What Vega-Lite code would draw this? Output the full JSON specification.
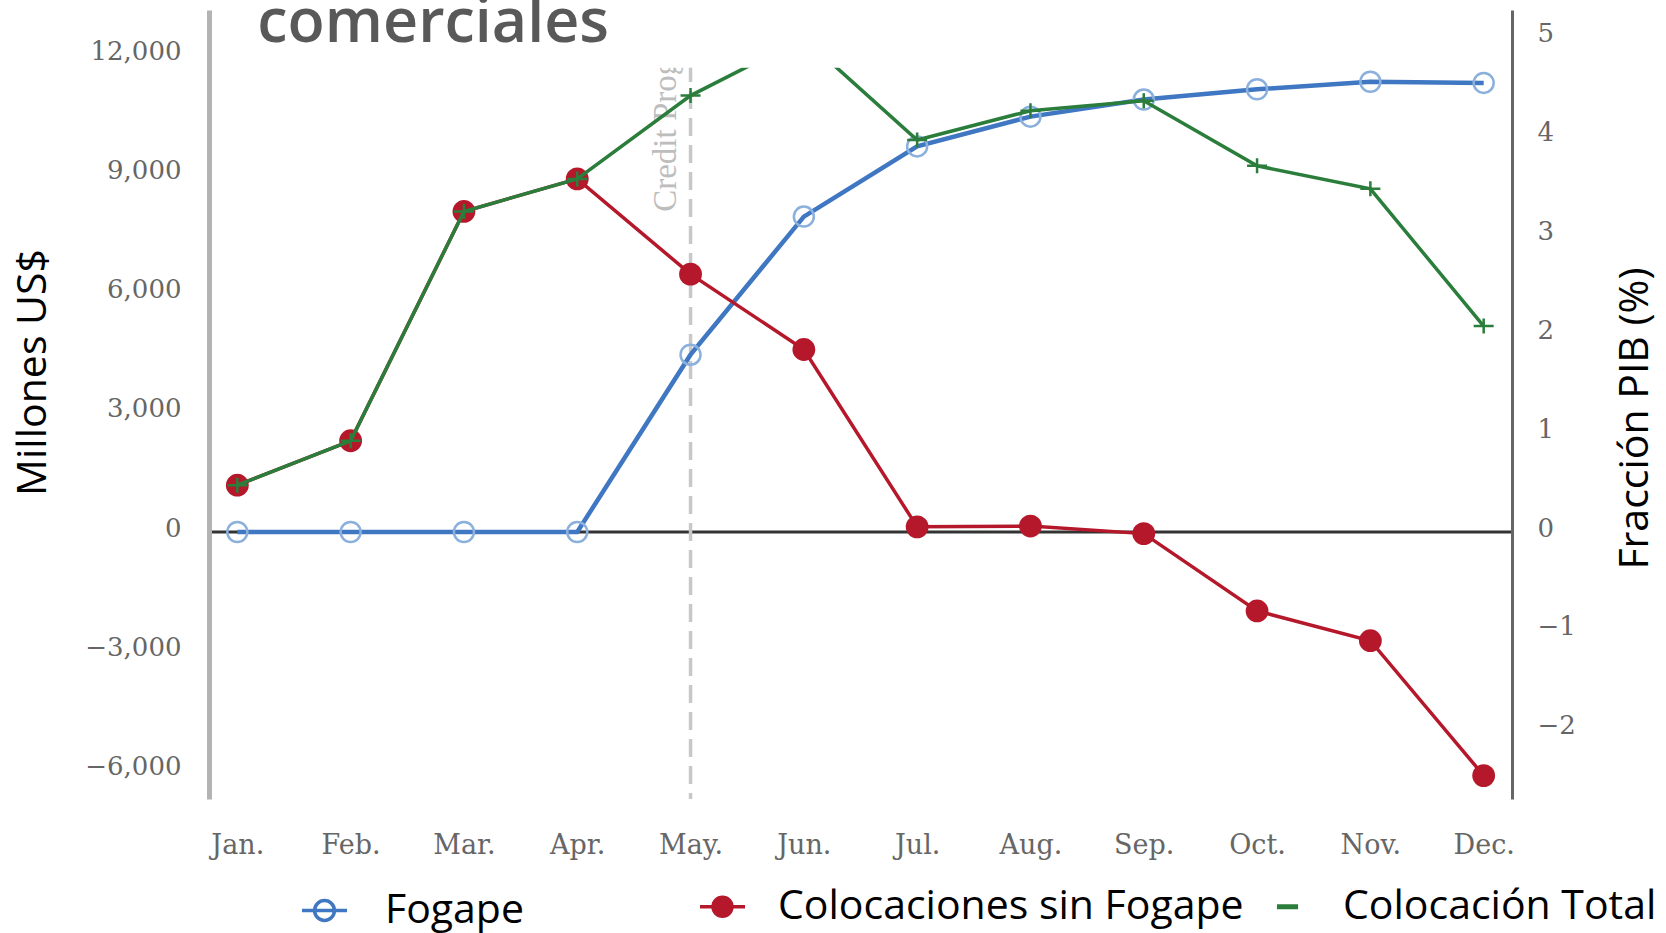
{
  "$schema": "https://vega.github.io/schema/vega-lite/v6.json",
  "width": 1303,
  "height": 789,
  "autosize": {"type": "none"},
  "padding": {"left": 209, "top": 10, "right": 154, "bottom": 134},
  "background": "white",
  "config": {"view": {"stroke": null}},
  "datasets": {
    "series": [
      {"mes": "Jan.", "serie": "Fogape", "valor": 0},
      {"mes": "Feb.", "serie": "Fogape", "valor": 0},
      {"mes": "Mar.", "serie": "Fogape", "valor": 0},
      {"mes": "Apr.", "serie": "Fogape", "valor": 0},
      {"mes": "May.", "serie": "Fogape", "valor": 4470},
      {"mes": "Jun.", "serie": "Fogape", "valor": 7950},
      {"mes": "Jul.", "serie": "Fogape", "valor": 9720},
      {"mes": "Aug.", "serie": "Fogape", "valor": 10470},
      {"mes": "Sep.", "serie": "Fogape", "valor": 10900},
      {"mes": "Oct.", "serie": "Fogape", "valor": 11160},
      {"mes": "Nov.", "serie": "Fogape", "valor": 11350},
      {"mes": "Dec.", "serie": "Fogape", "valor": 11320},
      {"mes": "Jan.", "serie": "Colocaciones sin Fogape", "valor": 1180},
      {"mes": "Feb.", "serie": "Colocaciones sin Fogape", "valor": 2300},
      {"mes": "Mar.", "serie": "Colocaciones sin Fogape", "valor": 8080},
      {"mes": "Apr.", "serie": "Colocaciones sin Fogape", "valor": 8900},
      {"mes": "May.", "serie": "Colocaciones sin Fogape", "valor": 6500},
      {"mes": "Jun.", "serie": "Colocaciones sin Fogape", "valor": 4600},
      {"mes": "Jul.", "serie": "Colocaciones sin Fogape", "valor": 130},
      {"mes": "Aug.", "serie": "Colocaciones sin Fogape", "valor": 150},
      {"mes": "Sep.", "serie": "Colocaciones sin Fogape", "valor": -40},
      {"mes": "Oct.", "serie": "Colocaciones sin Fogape", "valor": -1990},
      {"mes": "Nov.", "serie": "Colocaciones sin Fogape", "valor": -2740},
      {"mes": "Dec.", "serie": "Colocaciones sin Fogape", "valor": -6140},
      {"mes": "Jan.", "serie": "Colocación Total", "valor": 1180},
      {"mes": "Feb.", "serie": "Colocación Total", "valor": 2300},
      {"mes": "Mar.", "serie": "Colocación Total", "valor": 8080},
      {"mes": "Apr.", "serie": "Colocación Total", "valor": 8900},
      {"mes": "May.", "serie": "Colocación Total", "valor": 11000},
      {"mes": "Jun.", "serie": "Colocación Total", "valor": 12450},
      {"mes": "Jul.", "serie": "Colocación Total", "valor": 9880},
      {"mes": "Aug.", "serie": "Colocación Total", "valor": 10620},
      {"mes": "Sep.", "serie": "Colocación Total", "valor": 10870},
      {"mes": "Oct.", "serie": "Colocación Total", "valor": 9230},
      {"mes": "Nov.", "serie": "Colocación Total", "valor": 8650},
      {"mes": "Dec.", "serie": "Colocación Total", "valor": 5190}
    ]
  },
  "data": {"name": "series"},
  "layer": [
    {
      "layer": [
        {
          "data": {"values": [{"ref": "cero"}]},
          "mark": {"type": "rule", "color": "#333333", "strokeWidth": 3},
          "encoding": {
            "y": {
              "datum": 0,
              "type": "quantitative",
              "scale": {"domain": [-6730, 13158], "nice": false, "zero": false},
              "axis": {
                "orient": "left",
                "values": [-6000, -3000, 0, 3000, 6000, 9000, 12000],
                "format": ",.0f",
                "ticks": false,
                "grid": false,
                "domainColor": "#b3b3b3",
                "domainWidth": 5,
                "labelFont": "DejaVu Serif",
                "labelFontSize": 26,
                "labelColor": "#666666",
                "labelPadding": 28,
                "labelOffset": -4,
                "labelBaseline": "middle",
                "title": "Millones US$",
                "titleFont": "Open Sans",
                "titleFontSize": 41,
                "titleFontWeight": "normal",
                "titleColor": "#000000",
                "titleAngle": 270,
                "titleX": -176,
                "titleY": 362,
                "titleAlign": "center",
                "titleBaseline": "middle",
                "zindex": 1
              }
            }
          }
        },
        {
          "data": {"values": [{"ref": "Credit Prog."}]},
          "mark": {"type": "rule", "color": "#c8c8c8", "strokeWidth": 3.5, "strokeDash": [18, 9]},
          "encoding": {
            "x": {
              "datum": "May.",
              "type": "ordinal",
              "scale": {"type": "point", "domain": ["Jan.", "Feb.", "Mar.", "Apr.", "May.", "Jun.", "Jul.", "Aug.", "Sep.", "Oct.", "Nov.", "Dec."], "padding": 0.25},
              "axis": {
                "orient": "bottom",
                "domain": false,
                "ticks": false,
                "grid": false,
                "labelFont": "DejaVu Serif",
                "labelFontSize": 27,
                "labelColor": "#666666",
                "labelPadding": 33,
                "labelAngle": 0,
                "title": null,
                "zindex": 1
              }
            }
          }
        },
        {
          "data": {"values": [{"texto": "Credit Prog."}]},
          "mark": {"type": "text", "angle": 270, "align": "left", "baseline": "alphabetic", "dy": -15, "font": "Liberation Serif", "fontSize": 33, "color": "#bdbdbd"},
          "encoding": {
            "text": {"field": "texto", "type": "nominal"},
            "x": {"datum": "May.", "type": "ordinal"},
            "y": {"datum": 8070, "type": "quantitative"}
          }
        },
        {
          "transform": [{"filter": "datum.serie == 'Fogape'"}],
          "mark": {"type": "line", "strokeWidth": 4.5},
          "encoding": {
            "x": {"field": "mes", "type": "ordinal"},
            "y": {"field": "valor", "type": "quantitative"},
            "stroke": {
              "field": "serie",
              "type": "nominal",
              "scale": {"domain": ["Fogape"], "range": ["#3f77c2"]},
              "legend": {
                "orient": "none",
                "legendX": 91,
                "legendY": 876,
                "direction": "horizontal",
                "title": null,
                "padding": 0,
                "labelFont": "Open Sans",
                "labelFontSize": 41,
                "labelColor": "#000000",
                "labelLimit": 1000,
                "labelOffset": 36,
                "symbolSize": 2025,
                "symbolStrokeWidth": 3.5,
                "encode": {
                  "symbols": {
                    "update": {
                      "shape": {"value": "M-1,0L1,0M0.44,0A0.44,0.44,0,1,1,-0.44,0A0.44,0.44,0,1,1,0.44,0"},
                      "fill": {"value": "transparent"},
                      "stroke": {"value": "#5b8ccd"},
                      "strokeWidth": {"value": 3.5},
                      "opacity": {"value": 1}
                    }
                  }
                }
              }
            }
          }
        },
        {
          "transform": [{"filter": "datum.serie == 'Fogape'"}],
          "mark": {"type": "point", "shape": "circle", "filled": false, "stroke": "#8cb0dc", "strokeWidth": 2.5, "size": 400, "opacity": 1},
          "encoding": {
            "x": {"field": "mes", "type": "ordinal"},
            "y": {"field": "valor", "type": "quantitative"}
          }
        },
        {
          "transform": [{"filter": "datum.serie == 'Colocaciones sin Fogape'"}],
          "mark": {"type": "line", "strokeWidth": 3.5},
          "encoding": {
            "x": {"field": "mes", "type": "ordinal"},
            "y": {"field": "valor", "type": "quantitative"},
            "color": {
              "field": "serie",
              "type": "nominal",
              "scale": {"domain": ["Colocaciones sin Fogape", "Colocación Total"], "range": ["#b5182b", "#2b7d3b"]},
              "legend": {
                "orient": "none",
                "legendX": 493,
                "legendY": 876,
                "direction": "horizontal",
                "title": null,
                "padding": 0,
                "labelFont": "Open Sans",
                "labelFontSize": 41,
                "labelColor": "#000000",
                "labelLimit": 1000,
                "labelOffset": 35,
                "columnPadding": 22,
                "symbolSize": 2025,
                "symbolStrokeWidth": 3.5,
                "encode": {
                  "symbols": {
                    "update": {
                      "shape": {"signal": "datum.value == 'Colocaciones sin Fogape' ? 'M-1,0L1,0M0.42,0A0.42,0.42,0,1,1,-0.42,0A0.42,0.42,0,1,1,0.42,0' : 'M-0.47,0L0.47,0'"},
                      "fill": {"signal": "datum.value == 'Colocaciones sin Fogape' ? '#b5182b' : 'transparent'"},
                      "stroke": {"signal": "datum.value == 'Colocaciones sin Fogape' ? '#b5182b' : '#3e8e50'"},
                      "strokeWidth": {"signal": "datum.value == 'Colocación Total' ? 5 : 3.5"},
                      "opacity": {"value": 1}
                    }
                  }
                }
              }
            }
          }
        },
        {
          "transform": [{"filter": "datum.serie == 'Colocaciones sin Fogape'"}],
          "mark": {"type": "point", "shape": "circle", "filled": true, "color": "#b5182b", "size": 520, "opacity": 1},
          "encoding": {
            "x": {"field": "mes", "type": "ordinal"},
            "y": {"field": "valor", "type": "quantitative"}
          }
        },
        {
          "transform": [{"filter": "datum.serie == 'Colocación Total'"}],
          "mark": {"type": "line", "strokeWidth": 3.5},
          "encoding": {
            "x": {"field": "mes", "type": "ordinal"},
            "y": {"field": "valor", "type": "quantitative"},
            "color": {"field": "serie", "type": "nominal"}
          }
        },
        {
          "transform": [{"filter": "datum.serie == 'Colocación Total'"}],
          "mark": {"type": "point", "shape": "M-1,0L1,0M0,-0.75L0,0.75", "filled": false, "stroke": "#2b7d3b", "strokeWidth": 2.5, "size": 400, "opacity": 1},
          "encoding": {
            "x": {"field": "mes", "type": "ordinal"},
            "y": {"field": "valor", "type": "quantitative"}
          }
        },
        {
          "data": {"values": [{"ref": "encabezado"}]},
          "mark": {"type": "rect", "color": "white"},
          "encoding": {
            "x": {"datum": "Apr.", "type": "ordinal"},
            "x2": {"datum": "Jul."},
            "y": {"datum": 11700, "type": "quantitative"},
            "y2": {"datum": 13158}
          }
        },
        {
          "data": {"values": [{"texto": "comerciales"}]},
          "mark": {"type": "text", "align": "left", "baseline": "alphabetic", "dx": 20, "font": "Open Sans", "fontSize": 61, "fontWeight": 600, "color": "#595959"},
          "encoding": {
            "text": {"field": "texto", "type": "nominal"},
            "x": {"datum": "Jan.", "type": "ordinal"},
            "y": {"datum": 12350, "type": "quantitative"}
          }
        }
      ]
    },
    {
      "data": {"values": [{"ref": "pib"}]},
      "mark": {"type": "rule", "opacity": 0},
      "encoding": {
        "y": {
          "datum": 0,
          "type": "quantitative",
          "scale": {"domain": [-2.70, 5.28], "nice": false, "zero": false},
          "axis": {
            "orient": "right",
            "values": [-2, -1, 0, 1, 2, 3, 4, 5],
            "format": "d",
            "ticks": false,
            "grid": false,
            "domainColor": "#666666",
            "domainWidth": 3,
            "labelFont": "DejaVu Serif",
            "labelFontSize": 26,
            "labelColor": "#666666",
            "labelPadding": 25,
            "labelOffset": -4,
            "labelBaseline": "middle",
            "title": "Fracción PIB (%)",
            "titleFont": "Open Sans",
            "titleFontSize": 41,
            "titleFontWeight": "normal",
            "titleColor": "#000000",
            "titleAngle": 270,
            "titleX": 123,
            "titleY": 408,
            "titleAlign": "center",
            "titleBaseline": "middle",
            "zindex": 1
          }
        }
      }
    }
  ],
  "resolve": {"scale": {"y": "independent"}, "axis": {"y": "independent"}}
}
